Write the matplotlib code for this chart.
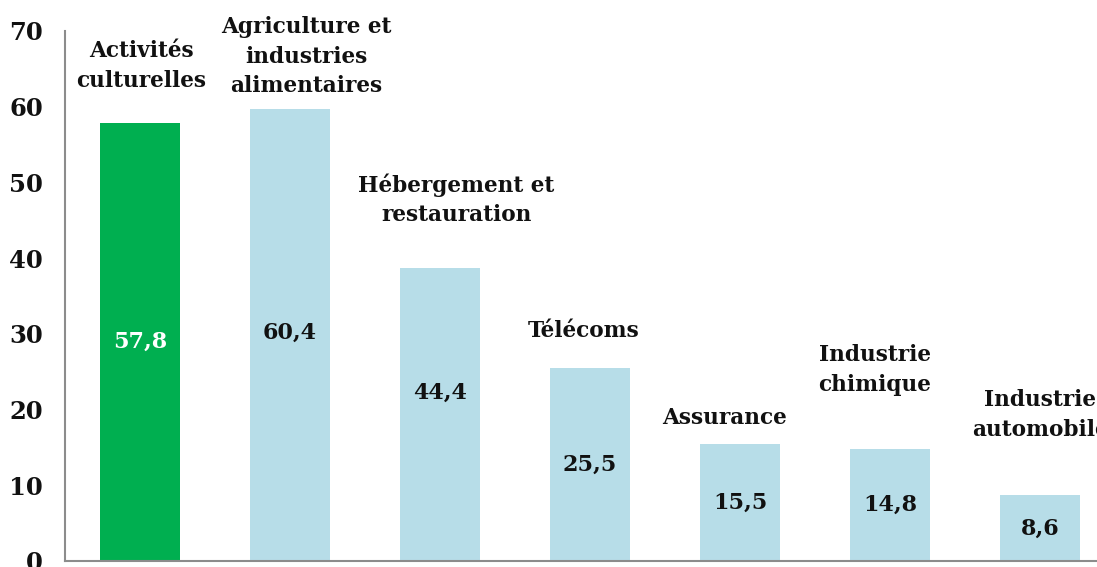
import matplotlib
matplotlib.use("Agg")
import matplotlib.pyplot as plt

categories = ["Activités\nculturelles", "Agriculture et\nindustries\nalimentaires",
              "Hébergement et\nrestauration", "Télécoms", "Assurance",
              "Industrie\nchimique", "Industrie\nautomobile"]
bar_heights = [57.8, 59.7, 38.7, 25.5, 15.5, 14.8, 8.7]
value_labels = [57.8, 60.4, 44.4, 25.5, 15.5, 14.8, 8.6]
yticks = [0, 10, 20, 30, 40, 50, 60, 70]

colors = ["#00AF50"] + ["#B7DDE8"] * 6
label_colors = ["white"] + ["#111111"] * 6
# category label positions (x offset, y centre) in data units
cat_dx = [0.01, 0.11, 0.11, -0.04, -0.10, -0.10, 0.0]
cat_y = [65.4, 66.6, 47.7, 30.4, 18.9, 25.2, 19.3]

plt.rcParams['font.family'] = ['DejaVu Serif']
fig = plt.figure(figsize=(10.97, 5.67), dpi=100)
ax = fig.add_axes([65/1097, 6/567, 1050/1097, 530/567])

x = list(range(len(categories)))
ax.bar(x, bar_heights, width=0.527, color=colors, zorder=2)
for i, (v, lc) in enumerate(zip(value_labels, label_colors)):
    ax.text(i, v / 2, f"{v:.1f}".replace(".", ","), ha="center", va="center",
            fontsize=16, fontweight="bold", color=lc, zorder=3)
for i, c in enumerate(categories):
    ax.text(i + cat_dx[i], cat_y[i], c, ha="center", va="center",
            fontsize=15.6, fontweight="bold", color="#111111",
            linespacing=1.45, zorder=3)

ax.set_xlim(-0.5, 6.5)
ax.set_ylim(0, 70)
ax.set_yticks(yticks)
ax.set_yticklabels([str(t) for t in yticks], fontsize=17.5, fontweight="bold", color="#111111")
ax.tick_params(axis="y", length=0, pad=16)
ax.set_xticks([])
for s in ["top", "right"]:
    ax.spines[s].set_visible(False)
for s in ["left", "bottom"]:
    ax.spines[s].set_color("#8C8C8C")
    ax.spines[s].set_linewidth(1.5)

fig.savefig("out.png", dpi=100)
